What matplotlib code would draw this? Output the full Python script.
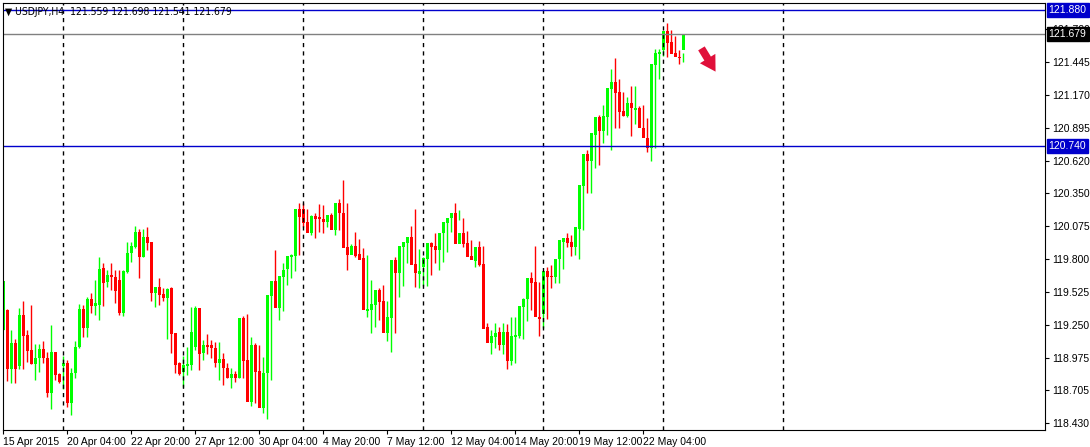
import matplotlib
matplotlib.use("Agg")
import matplotlib.pyplot as plt

plt.rcParams["font.family"] = ["Liberation Sans", "DejaVu Sans"]

# Readings taken off the reference chart (vertical position on the chart's price scale),
# calibrated with the axis labels 121.445 and 118.430 below.
CAL_TOP_POS, CAL_TOP_PRICE = 62.0, 121.445
CAL_BOT_POS, CAL_BOT_PRICE = 423.0, 118.430

opens_r = [330,310,369,343,366,315,335,350,364,358,349,358,393,352,374,366,363,403,373,347,
           309,328,299,306,305,268,282,275,277,280,313,272,253,247,232,257,237,242,293,287,
           294,298,288,333,363,372,366,365,347,308,353,345,345,348,363,359,368,378,374,378,
           318,360,402,345,371,408,373,296,281,308,277,269,257,256,209,209,222,233,216,217,
           219,222,215,230,203,213,247,255,246,254,258,311,310,305,290,301,333,318,260,273,
           247,243,237,264,274,267,259,243,246,250,233,223,218,213,244,233,243,256,261,247,
           264,327,343,337,332,345,332,361,337,336,307,299,278,282,317,314,271,276,277,259,
           242,238,242,247,229,186,154,161,135,117,131,117,89,82,92,111,116,103,110,108,
           128,138,148,65,54,50,31,42,53,57,50]
closes_r = [281,369,343,369,315,336,351,364,358,349,358,393,352,375,382,363,403,373,347,309,
            328,299,306,303,269,283,275,277,291,313,271,253,246,232,257,237,243,293,287,295,
            298,289,334,365,374,365,364,332,308,354,345,347,348,363,359,368,378,374,378,318,
            361,402,345,372,408,373,295,281,308,276,270,256,255,209,217,223,233,216,219,219,
            222,215,230,203,213,248,255,246,256,260,310,309,304,290,302,333,317,260,273,246,
            242,237,265,273,271,258,243,247,250,233,222,218,213,244,233,244,257,260,247,265,
            329,343,336,333,345,332,361,336,335,306,299,278,283,317,319,271,277,277,259,240,
            238,243,247,227,185,154,161,133,117,131,116,88,82,93,112,116,103,108,108,128,
            138,148,64,53,52,31,43,54,57,58,35]
highs_r = [281,309,330,339,308,301,330,305,344,344,341,352,325,352,373,356,360,368,341,304,
           305,297,293,280,257,263,270,263,270,270,270,242,242,226,229,229,227,242,287,278,
           288,288,287,333,362,356,347,307,306,308,340,334,340,342,342,353,363,368,371,374,
           316,314,337,343,345,357,350,285,250,277,263,263,254,240,203,203,209,215,213,204,
           205,217,213,213,199,180,203,244,232,239,248,255,280,298,288,285,301,317,257,255,
           242,240,226,209,249,257,255,242,233,239,222,219,216,203,210,218,231,240,248,241,
           246,323,330,323,327,323,324,317,317,327,298,293,272,246,282,305,267,265,265,250,
           238,233,235,233,226,182,150,149,120,115,105,110,69,58,79,92,97,86,86,106,
           105,118,133,49,49,48,23,30,36,50,53,33]
lows_r = [330,381,383,383,369,369,362,364,380,372,363,397,409,380,383,389,407,415,378,348,
          337,337,313,315,320,306,287,290,303,315,316,273,262,248,278,257,250,301,307,305,
          301,339,353,373,375,387,375,370,350,370,360,354,358,367,380,385,378,388,382,378,
          378,372,406,403,372,413,419,380,303,320,311,285,278,271,255,227,225,235,238,232,
          233,227,227,235,230,232,270,250,257,259,280,317,333,327,320,316,341,352,333,297,
          286,263,255,287,288,286,286,275,263,270,262,252,232,230,220,247,255,256,267,266,
          267,331,354,348,350,354,369,365,363,338,339,321,310,293,336,328,319,288,283,283,
          269,247,256,255,259,230,193,193,168,165,143,135,150,128,128,116,117,136,124,124,
          133,152,161,148,79,56,57,45,55,64,62,53]

TICK_VALUES = [121.720, 121.445, 121.170, 120.895, 120.620, 120.350, 120.075,
               119.800, 119.525, 119.250, 118.975, 118.705, 118.430]
LEVELS_BLUE = [121.880, 120.740]
LAST_PRICE = 121.679
DATE_LABELS = ["15 Apr 2015", "20 Apr 04:00", "22 Apr 20:00", "27 Apr 12:00", "30 Apr 04:00",
               "4 May 20:00", "7 May 12:00", "12 May 04:00", "14 May 20:00", "19 May 12:00",
               "22 May 04:00"]
TITLE = "USDJPY,H4  121.559 121.698 121.541 121.679"

scale = (CAL_TOP_PRICE - CAL_BOT_PRICE) / (CAL_BOT_POS - CAL_TOP_POS)
def to_price(v):
    return CAL_TOP_PRICE - (v - CAL_TOP_POS) * scale

opens = [to_price(v) for v in opens_r]
closes = [to_price(v) for v in closes_r]
highs = [to_price(v) for v in highs_r]
lows = [to_price(v) for v in lows_r]

W, H = 1090, 447
fig = plt.figure(figsize=(W/100, H/100), dpi=100)
ax = fig.add_axes([3/W, 1-430/H, (1045-3)/W, (430-3)/H])
ax.set_xlim(0, (1045-3)/4)
ax.set_ylim(to_price(430), to_price(3))

GREEN = "#00ff00"
RED = "#ff0000"
n = len(opens)
for i in range(n):
    o, c, h, l = opens[i], closes[i], highs[i], lows[i]
    col = GREEN if c >= o else RED
    ax.vlines(i, l, h, color=col, lw=1.0)
    ax.bar(i, max(abs(c-o), 0.004), bottom=min(o, c), width=0.75, color=col, lw=0)

for k in range(15, 200, 30):
    ax.axvline(k, color="black", ls=(0, (3, 3)), lw=1.0)
for lv in LEVELS_BLUE:
    ax.axhline(lv, color="#0000cc", lw=1.0)
ax.axhline(LAST_PRICE, color="#808080", lw=1.0)

ax.yaxis.tick_right()
ax.set_yticks(TICK_VALUES)
ax.set_yticklabels([f"{v:.3f}" for v in TICK_VALUES])
ax.tick_params(axis="y", length=3, labelsize=7.5, pad=2)
ax.set_xticks([16*k for k in range(len(DATE_LABELS))])
ax.set_xticklabels(DATE_LABELS, ha="left")
ax.tick_params(axis="x", length=3, labelsize=7.5, pad=2)
for sp in ax.spines.values():
    sp.set_color("black")

def box(val, fc):
    ax.text(1.0035, val, f"{val:.3f}", transform=ax.get_yaxis_transform(), va="center",
            ha="left", fontsize=7.5, color="white",
            bbox=dict(boxstyle="square,pad=0.2", fc=fc, ec=fc))
box(LEVELS_BLUE[0], "#0000cc")
box(LEVELS_BLUE[1], "#0000cc")
box(LAST_PRICE, "black")

ax.text(0.002, 0.99, "\u25BC USDJPY,H4  121.559 121.698 121.541 121.679"[0:0] + "\u25BC " + TITLE,
        transform=ax.transAxes, ha="left", va="top", fontsize=7.5,
        family=["DejaVu Sans"], fontstretch="condensed")

ax.annotate("", xy=(717, H-74), xytext=(700, H-46), xycoords="figure pixels",
            textcoords="figure pixels",
            arrowprops=dict(arrowstyle="simple,head_width=1.3,head_length=1.1,tail_width=0.55",
                            color="#e0103a", lw=0))

fig.savefig("out.png", dpi=100)
